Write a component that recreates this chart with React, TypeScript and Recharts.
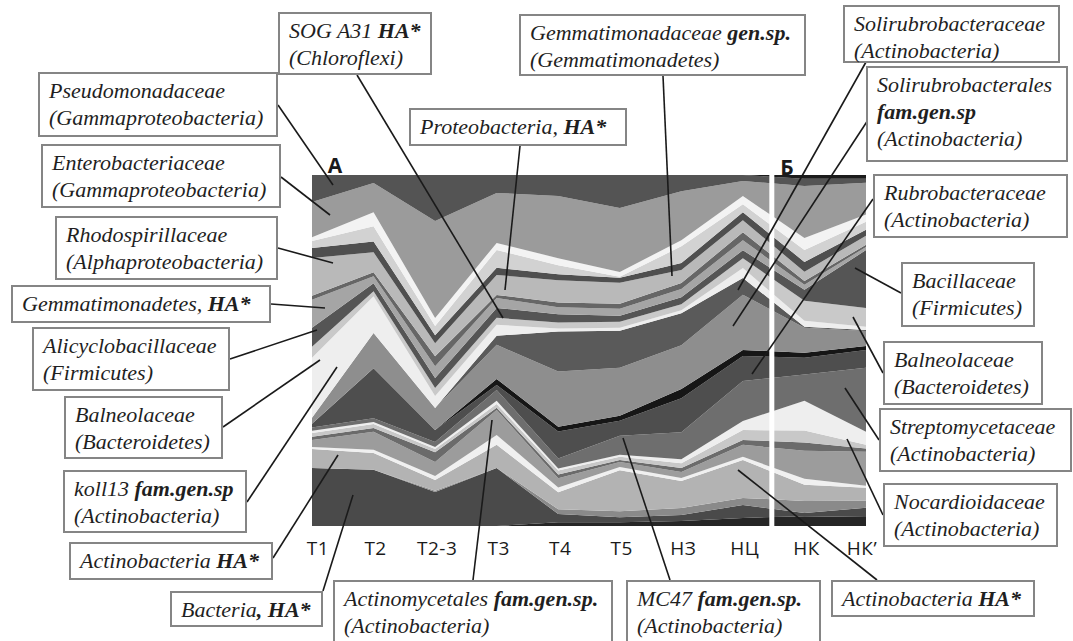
import React from 'react'
import { AreaChart, Area, XAxis, YAxis, ReferenceLine } from 'recharts'

const W = 1073
const H = 641

// Sampling sites along the transect
const categories = ['T1', 'T2', 'T2-3', 'T3', 'T4', 'T5', 'НЗ', 'НЦ', 'НК', 'НК’']

// Relative abundance, % (bottom layer first)
const blackBase = [0, 0, 0, 0, 1.1, 1.1, 1.4, 2.3, 2.8, 2.6]
const bacteriaHA = [16.5, 16.0, 9.7, 16.5, 2.3, 1.4, 1.7, 3.7, 0.9, 2.6]
const grayBase = [0, 0, 0.3, 0, 1.4, 1.7, 2.0, 2.0, 3.4, 2.0]
const actinoHA = [5.4, 4.8, 3.1, 6.6, 4.8, 11.7, 7.7, 10.8, 4.6, 3.7]
const whiteLow = [0.6, 0.9, 1.1, 2.8, 1.4, 0.9, 0.9, 0.9, 1.7, 0.6]
const actinomycetales = [2.0, 5.1, 4.0, 7.1, 2.6, 1.4, 1.7, 3.4, 8.0, 9.7]
const stripeDark = [0.9, 1.1, 2.8, 0.6, 1.1, 0.6, 1.1, 1.4, 2.3, 0.9]
const stripeLight = [1.1, 1.1, 0.9, 1.1, 1.1, 0.9, 1.4, 2.8, 3.4, 1.1]
const nocardioid = [0.6, 0.6, 0.6, 0.9, 0.6, 0.6, 1.1, 2.6, 8.5, 3.7]
const streptomyces = [0.9, 1.1, 1.4, 3.1, 2.8, 5.4, 7.7, 11.4, 7.4, 18.2]
const mc47 = [1.1, 14.2, 3.4, 1.4, 7.7, 4.3, 9.7, 7.1, 4.8, 5.1]
const rubrobacter = [0, 0, 0, 1.7, 1.4, 1.4, 2.6, 1.7, 1.4, 1.1]
const solirubrobacterales = [1.7, 10.0, 6.3, 9.7, 15.7, 13.7, 12.5, 15.7, 7.1, 4.3]
const solirubrobacteraceae = [0, 0, 0, 2.6, 11.4, 10.5, 9.1, 4.8, 0.3, 0.3]
const koll13 = [17.1, 10.5, 3.4, 3.1, 0.9, 0.9, 0.9, 2.8, 1.7, 0.9]
const balneolaceae = [3.1, 1.4, 2.3, 2.0, 1.7, 1.7, 1.7, 2.8, 5.7, 5.4]
const alicyclobacillaceae = [5.4, 2.3, 2.8, 2.8, 2.3, 1.7, 2.0, 2.3, 3.1, 16.5]
const gemmatimonadetesHA = [8.0, 2.0, 3.4, 2.8, 2.0, 2.0, 2.3, 2.8, 1.4, 0.9]
const sogA31 = [1.1, 1.1, 2.8, 0.9, 1.4, 1.4, 1.7, 2.3, 1.1, 0.6]
const proteobacteriaHA = [10.8, 5.7, 3.7, 5.7, 6.3, 6.0, 3.7, 3.4, 2.6, 2.6]
const rhodospirillaceae = [2.8, 3.1, 2.3, 2.0, 1.7, 1.4, 2.0, 2.3, 2.8, 1.7]
const stripeTop = [2.0, 4.3, 2.6, 5.1, 2.6, 0.3, 4.8, 2.3, 3.4, 2.3]
const whiteTop = [1.1, 4.0, 2.3, 2.0, 2.0, 1.4, 1.7, 2.3, 3.4, 2.0]
const gemmatimonadaceae = [10.0, 8.3, 27.6, 14.2, 17.7, 18.2, 14.0, 4.3, 14.8, 9.1]
const pseudomonadaceae = [7.7, 2.3, 13.1, 5.1, 6.0, 9.4, 4.6, 1.7, 2.0, 1.1]
const blackTop = [0, 0, 0, 0, 0, 0, 0, 0, 1.1, 1.1]

const layers = [
  { key: 'blackBase', values: blackBase, color: '#262626' },
  { key: 'bacteriaHA', values: bacteriaHA, color: '#4a4a4a' },
  { key: 'grayBase', values: grayBase, color: '#8a8a8a' },
  { key: 'actinoHA', values: actinoHA, color: '#b3b3b3' },
  { key: 'whiteLow', values: whiteLow, color: '#f0f0f0' },
  { key: 'actinomycetales', values: actinomycetales, color: '#9c9c9c' },
  { key: 'stripeDark', values: stripeDark, color: '#6b6b6b' },
  { key: 'stripeLight', values: stripeLight, color: '#c8c8c8' },
  { key: 'nocardioid', values: nocardioid, color: '#eeeeee' },
  { key: 'streptomyces', values: streptomyces, color: '#6e6e6e' },
  { key: 'mc47', values: mc47, color: '#4e4e4e' },
  { key: 'rubrobacter', values: rubrobacter, color: '#161616' },
  { key: 'solirubrobacterales', values: solirubrobacterales, color: '#8e8e8e' },
  { key: 'solirubrobacteraceae', values: solirubrobacteraceae, color: '#5a5a5a' },
  { key: 'koll13', values: koll13, color: '#eeeeee' },
  { key: 'balneolaceae', values: balneolaceae, color: '#c9c9c9' },
  { key: 'alicyclobacillaceae', values: alicyclobacillaceae, color: '#555555' },
  { key: 'gemmatimonadetesHA', values: gemmatimonadetesHA, color: '#a5a5a5' },
  { key: 'sogA31', values: sogA31, color: '#666666' },
  { key: 'proteobacteriaHA', values: proteobacteriaHA, color: '#b9b9b9' },
  { key: 'rhodospirillaceae', values: rhodospirillaceae, color: '#4f4f4f' },
  { key: 'stripeTop', values: stripeTop, color: '#d2d2d2' },
  { key: 'whiteTop', values: whiteTop, color: '#f3f3f3' },
  { key: 'gemmatimonadaceae', values: gemmatimonadaceae, color: '#9b9b9b' },
  { key: 'pseudomonadaceae', values: pseudomonadaceae, color: '#545454' },
  { key: 'blackTop', values: blackTop, color: '#1c1c1c' },
]

const rows = categories.map((name, i) => {
  const row: Record<string, number | string> = { x: i, name }
  layers.forEach((l) => {
    row[l.key] = l.values[i]
  })
  return row
})

// white divider between the two transects (А | Б)
const DIVIDER_X = 7.47

function SiteTick({ x, y, payload }: { x: number; y: number; payload: { value: number } }) {
  const i = payload.value
  const nudge = i === 0 ? 6 : i === categories.length - 1 ? -4 : 2
  return (
    <text
      x={x + nudge}
      y={y + 21}
      textAnchor="middle"
      fontFamily="'Open Sans', sans-serif"
      fontSize={19}
      letterSpacing={0.5}
      fill="#1a1a1a"
    >
      {categories[i]}
    </text>
  )
}

// annotation boxes; text between | | is bold
const notes = [
  { l: 38, t: 72, w: 240, h: 65, lines: ['Pseudomonadaceae', '(Gammaproteobacteria)'] },
  { l: 41, t: 144, w: 240, h: 64, lines: ['Enterobacteriaceae', '(Gammaproteobacteria)'] },
  { l: 55, t: 216, w: 223, h: 64, lines: ['Rhodospirillaceae', '(Alphaproteobacteria)'] },
  { l: 11, t: 285, w: 260, h: 38, lines: ['Gemmatimonadetes, |HA*|'] },
  { l: 32, t: 327, w: 198, h: 64, lines: ['Alicyclobacillaceae', '(Firmicutes)'] },
  { l: 64, t: 396, w: 159, h: 63, lines: ['Balneolaceae', '(Bacteroidetes)'] },
  { l: 63, t: 470, w: 184, h: 63, lines: ['koll13 |fam.gen.sp|', '(Actinobacteria)'] },
  { l: 69, t: 542, w: 204, h: 38, lines: ['Actinobacteria |HA*|'] },
  { l: 170, t: 591, w: 153, h: 36, lines: ['Bacteria|, HA*|'] },
  { l: 278, t: 12, w: 154, h: 63, lines: ['SOG A31 |HA*|', '(Chloroflexi)'] },
  { l: 409, t: 108, w: 218, h: 38, lines: ['Proteobacteria, |HA*|'] },
  { l: 519, t: 14, w: 287, h: 62, lines: ['Gemmatimonadaceae |gen.sp.|', '(Gemmatimonadetes)'] },
  { l: 843, t: 5, w: 217, h: 58, lines: ['Solirubrobacteraceae', '(Actinobacteria)'] },
  { l: 866, t: 66, w: 202, h: 96, lines: ['Solirubrobacterales', '|fam.gen.sp|', '(Actinobacteria)'] },
  { l: 873, t: 174, w: 195, h: 64, lines: ['Rubrobacteraceae', '(Actinobacteria)'] },
  { l: 901, t: 262, w: 134, h: 65, lines: ['Bacillaceae', '(Firmicutes)'] },
  { l: 883, t: 341, w: 160, h: 64, lines: ['Balneolaceae', '(Bacteroidetes)'] },
  { l: 879, t: 408, w: 193, h: 64, lines: ['Streptomycetaceae', '(Actinobacteria)'] },
  { l: 883, t: 483, w: 175, h: 64, lines: ['Nocardioidaceae', '(Actinobacteria)'] },
  { l: 831, t: 580, w: 204, h: 37, lines: ['Actinobacteria |HA*|'] },
  { l: 333, t: 580, w: 280, h: 75, lines: ['Actinomycetales |fam.gen.sp.|', '(Actinobacteria)'] },
  { l: 626, t: 580, w: 195, h: 75, lines: ['MC47 |fam.gen.sp.|', '(Actinobacteria)'] },
]

// leader lines [x1, y1, x2, y2]
const leaders = [
  [278, 105, 333, 185],
  [281, 177, 330, 215],
  [278, 248, 333, 263],
  [271, 304, 325, 308],
  [230, 359, 317, 330],
  [223, 427, 320, 360],
  [247, 502, 337, 367],
  [273, 558, 338, 455],
  [323, 591, 353, 495],
  [357, 75, 503, 318],
  [520, 146, 505, 290],
  [663, 76, 672, 276],
  [866, 62, 738, 290],
  [868, 120, 733, 326],
  [873, 199, 752, 374],
  [901, 293, 855, 268],
  [883, 373, 853, 317],
  [879, 440, 845, 388],
  [883, 515, 847, 439],
  [877, 580, 738, 470],
  [473, 580, 492, 420],
  [670, 580, 623, 438],
]

function NoteLine({ text }: { text: string }) {
  const parts = text.split('|')
  return (
    <div style={{ whiteSpace: 'nowrap' }}>
      {parts.map((p, i) =>
        i % 2 === 1 ? (
          <b key={i}>{p}</b>
        ) : (
          <span key={i}>{p}</span>
        )
      )}
    </div>
  )
}

export default function App() {
  return (
    <div
      style={{
        position: 'absolute',
        left: 0,
        top: 0,
        width: W,
        height: H,
        overflow: 'hidden',
        background: '#fff',
      }}
    >
      <div style={{ position: 'absolute', left: 0, top: 0 }}>
        <AreaChart
          width={W}
          height={H}
          data={rows}
          stackOffset="expand"
          margin={{ top: 175, right: 207, bottom: 75, left: 312 }}
        >
          <XAxis
            dataKey="x"
            type="number"
            domain={[0, categories.length - 1]}
            ticks={categories.map((_, i) => i)}
            tick={SiteTick}
            axisLine={false}
            tickLine={false}
            height={40}
            interval={0}
          />
          <YAxis hide domain={[0, 1]} />
          {layers.map((l) => (
            <Area
              key={l.key}
              dataKey={l.key}
              stackId="1"
              type="linear"
              fill={l.color}
              fillOpacity={1}
              stroke="none"
              isAnimationActive={false}
            />
          ))}
          <ReferenceLine x={DIVIDER_X} stroke="#ffffff" strokeWidth={5} />
        </AreaChart>
      </div>

      <svg
        width={W}
        height={H}
        style={{ position: 'absolute', left: 0, top: 0, pointerEvents: 'none' }}
      >
        {leaders.map(([x1, y1, x2, y2], i) => (
          <line key={i} x1={x1} y1={y1} x2={x2} y2={y2} stroke="#1a1a1a" strokeWidth={1.6} />
        ))}
        <text x={335} y={173} textAnchor="middle" fontFamily="'Open Sans', sans-serif" fontWeight="bold" fontSize={21} fill="#1a1a1a">
          А
        </text>
        <text x={787} y={175} textAnchor="middle" fontFamily="'Open Sans', sans-serif" fontWeight="bold" fontSize={21} fill="#1a1a1a">
          Б
        </text>
      </svg>

      {notes.map((n, i) => (
        <div
          key={i}
          style={{
            position: 'absolute',
            left: n.l,
            top: n.t,
            width: n.w,
            height: n.h,
            boxSizing: 'border-box',
            border: '2px solid #858585',
            background: '#fff',
            padding: '3px 0 0 9px',
            fontFamily: '"Liberation Serif", "Times New Roman", serif',
            fontStyle: 'italic',
            fontSize: 22,
            lineHeight: '27px',
            color: '#1f1f1f',
          }}
        >
          {n.lines.map((line, j) => (
            <NoteLine key={j} text={line} />
          ))}
        </div>
      ))}
    </div>
  )
}
